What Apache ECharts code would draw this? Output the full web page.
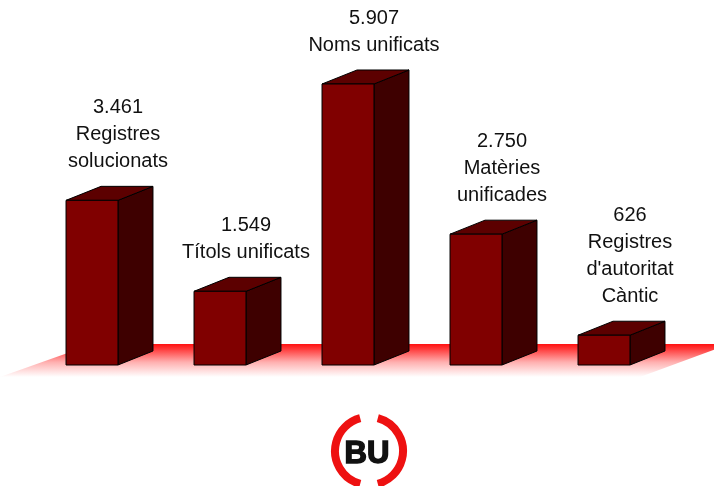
<!DOCTYPE html>
<html>
<head>
<meta charset="utf-8">
<script src="https://cdn.jsdelivr.net/npm/echarts@6/dist/echarts.min.js"></script>
<style>html,body{margin:0;padding:0;background:#fff;}#main{width:714px;height:486px;}</style>
</head>
<body>
<div id="main"></div>
<script>
var categories = ["Registres\nsolucionats", "Títols unificats", "Noms unificats", "Matèries\nunificades", "Registres\nd'autoritat\nCàntic"];
var values = [3461, 1549, 5907, 2750, 626];

function fmt(v) { return String(v).replace(/\B(?=(\d{3})+(?!\d))/g, '.'); }

var DX = 35, DY = -14;
var chart = echarts.init(document.getElementById('main'));
chart.setOption({
  backgroundColor: '#ffffff',
  animation: false,
  grid: { left: 28, right: 46, top: 32, bottom: 121 },
  xAxis: { type: 'category', data: categories, show: false },
  yAxis: { type: 'value', min: 0, max: 7000, show: false },
  graphic: [
    {
      type: 'polygon', z: 0, silent: true,
      shape: { points: [[0, 377], [93, 344], [730, 344], [640, 377]] },
      style: {
        fill: {
          type: 'linear', x: 0, y: 0, x2: 0, y2: 1,
          colorStops: [
            { offset: 0, color: '#ff1010' },
            { offset: 0.15, color: '#ff3a3a' },
            { offset: 0.55, color: '#ffb0b0' },
            { offset: 1, color: '#ffffff' }
          ]
        }
      }
    },
    {
      type: 'arc', silent: true,
      shape: { cx: 369, cy: 451, r: 34, startAngle: 105 * Math.PI / 180, endAngle: 255 * Math.PI / 180, clockwise: true },
      style: { stroke: '#ee1111', lineWidth: 8, fill: null }
    },
    {
      type: 'arc', silent: true,
      shape: { cx: 369, cy: 451, r: 34, startAngle: -75 * Math.PI / 180, endAngle: 75 * Math.PI / 180, clockwise: true },
      style: { stroke: '#ee1111', lineWidth: 8, fill: null }
    },
    {
      type: 'text', silent: true,
      x: 367, y: 454,
      style: {
        text: 'BU', fill: '#111111', stroke: '#111111', lineWidth: 1.5,
        font: 'bold 31px "Liberation Sans", Arial, sans-serif',
        align: 'center', verticalAlign: 'middle'
      }
    }
  ],
  series: [{
    type: 'custom',
    data: values,
    renderItem: function (params, api) {
      var idx = api.value(0);
      var v = api.value(1);
      var top = api.coord([idx, v]);
      var base = api.coord([idx, 0]);
      var w = api.size([1, 0])[0] * 0.406;
      var x0 = top[0] - w / 2, x1 = top[0] + w / 2;
      var yt = top[1], yb = base[1];
      var stroke = { stroke: '#000000', lineWidth: 1 };
      return {
        type: 'group',
        children: [
          { type: 'polygon', shape: { points: [[x1, yt], [x1 + DX, yt + DY], [x1 + DX, yb + DY], [x1, yb]] },
            style: Object.assign({ fill: '#3e0000' }, stroke) },
          { type: 'polygon', shape: { points: [[x0, yt], [x0 + DX, yt + DY], [x1 + DX, yt + DY], [x1, yt]] },
            style: Object.assign({ fill: '#5c0000' }, stroke) },
          { type: 'rect', shape: { x: x0, y: yt, width: w, height: yb - yt },
            style: Object.assign({ fill: '#800000' }, stroke) },
          { type: 'text', x: top[0] + 26, y: yt - 25,
            style: {
              text: fmt(values[idx]) + '\n' + categories[idx],
              fill: '#111111',
              font: '20px "Liberation Sans", Arial, sans-serif',
              lineHeight: 27,
              align: 'center', verticalAlign: 'bottom'
            } }
        ]
      };
    }
  }]
});
</script>
</body>
</html>
